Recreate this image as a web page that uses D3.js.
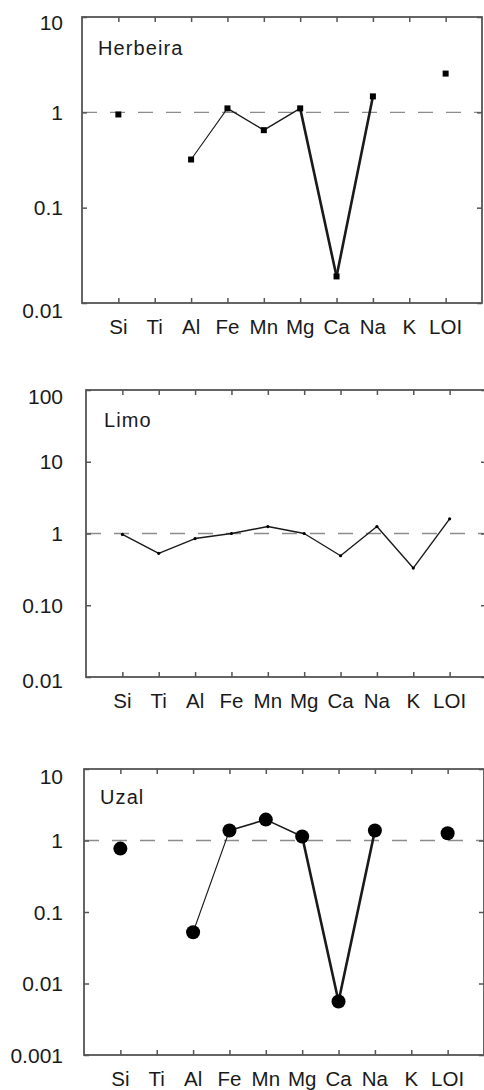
<!DOCTYPE html>
<html>
<head>
<meta charset="utf-8">
<script src="https://cdn.jsdelivr.net/npm/d3@7"></script>
<style>
  body { margin: 0; background: #fff; }
  svg { display: block; }
  text { font-family: Arial, "Liberation Sans", sans-serif; fill: #1a1a1a; }
</style>
</head>
<body>
<div class="chart"></div>
<script>
// categories on the x axis (same for all three panels)
var elements = ["Si", "Ti", "Al", "Fe", "Mn", "Mg", "Ca", "Na", "K", "LOI"];

// values, null = no value plotted
var herbeira = [0.95, null, 0.32, 1.1, 0.65, 1.1, 0.019, 1.47, null, 2.55];
var limo     = [0.97, 0.53, 0.85, 1.0, 1.25, 1.0, 0.49, 1.25, 0.33, 1.6];
var uzal     = [0.77, null, 0.052, 1.38, 1.96, 1.14, 0.0056, 1.38, null, 1.26];

// y tick values and labels
var herbeiraTicks = [10, 1, 0.1, 0.01];
var herbeiraLabels = ["10", "1", "0.1", "0.01"];
var limoTicks = [100, 10, 1, 0.1, 0.01];
var limoLabels = ["100", "10", "1", "0.10", "0.01"];
var uzalTicks = [10, 1, 0.1, 0.01, 0.001];
var uzalLabels = ["10", "1", "0.1", "0.01", "0.001"];

// stroke width of each segment (between element i and i+1)
var herbeiraWidths = [1, 1, 1.1, 1.4, 1.4, 2.6, 2.6, 1, 1];
var limoWidths     = [1.4, 1.4, 1.4, 1.4, 1.4, 1.4, 1.4, 1.4, 1.4];
var uzalWidths     = [1, 1, 1.1, 1.6, 1.6, 2.6, 2.6, 1, 1];

var panels = [
  {name: "Herbeira", values: herbeira, ticks: herbeiraTicks, labels: herbeiraLabels, widths: herbeiraWidths,
   left: 82, top: 17, bottom: 303, marker: "square", shiftTop: 5, shiftBottom: 7, nameX: 98, nameY: 55, labelRight: 63},
  {name: "Limo", values: limo, ticks: limoTicks, labels: limoLabels, widths: limoWidths,
   left: 86, top: 390, bottom: 677, marker: "dot", shiftTop: 6, shiftBottom: 3, nameX: 104, nameY: 427, labelRight: 63},
  {name: "Uzal", values: uzal, ticks: uzalTicks, labels: uzalLabels, widths: uzalWidths,
   left: 84, top: 769, bottom: 1055, marker: "circle", shiftTop: 7, shiftBottom: 0, nameX: 100, nameY: 804, labelRight: 63}
];

var W = 484, H = 1090, frameW = 400, tickLen = 5;
var frameColor = "#555";

var svg = d3.select(".chart")
    .append("svg")
    .attr("width", W)
    .attr("height", H);

panels.forEach(function(p) {
  var xScale = d3.scalePoint()
      .domain(elements)
      .range([p.left, p.left + frameW])
      .padding(1);
  var yScale = d3.scaleLog()
      .domain([p.ticks[p.ticks.length - 1], p.ticks[0]])
      .range([p.bottom, p.top]);

  var g = svg.append("g").attr("class", "panel");

  // reference line at 1
  g.append("line")
      .attr("x1", p.left).attr("x2", p.left + frameW)
      .attr("y1", yScale(1)).attr("y2", yScale(1))
      .style("stroke", "#8c8c8c")
      .style("stroke-width", 1.3)
      .style("stroke-dasharray", "15,13")
      .style("stroke-dashoffset", -28);

  // axes: ticks pointing inward on all four sides
  g.append("g")
      .attr("transform", "translate(0," + p.bottom + ")")
      .call(d3.axisTop(xScale).tickSize(tickLen).tickFormat(""))
      .call(styleAxis);
  g.append("g")
      .attr("transform", "translate(0," + p.top + ")")
      .call(d3.axisBottom(xScale).tickSize(tickLen).tickFormat(""))
      .call(styleAxis);
  g.append("g")
      .attr("transform", "translate(" + p.left + ",0)")
      .call(d3.axisRight(yScale).tickValues(p.ticks).tickSize(tickLen).tickFormat(""))
      .call(styleAxis);
  g.append("g")
      .attr("transform", "translate(" + (p.left + frameW) + ",0)")
      .call(d3.axisLeft(yScale).tickValues(p.ticks).tickSize(tickLen).tickFormat(""))
      .call(styleAxis);

  // frame
  g.append("rect")
      .attr("x", p.left).attr("y", p.top)
      .attr("width", frameW).attr("height", p.bottom - p.top)
      .style("fill", "none")
      .style("stroke", frameColor)
      .style("stroke-width", 1.8);

  // y labels
  g.selectAll(".ylab")
      .data(p.ticks)
      .enter().append("text")
      .attr("class", "ylab")
      .attr("x", p.labelRight)
      .attr("y", function(d, i) {
        var y = yScale(d);
        if (i === 0) y += p.shiftTop;
        if (i === p.ticks.length - 1) y += p.shiftBottom;
        return y;
      })
      .attr("dy", "0.36em")
      .attr("font-size", 21)
      .style("text-anchor", "end")
      .text(function(d, i) { return p.labels[i]; });

  // x labels
  g.selectAll(".xlab")
      .data(elements)
      .enter().append("text")
      .attr("class", "xlab")
      .attr("x", function(d) { return xScale(d); })
      .attr("y", p.bottom + 31)
      .attr("font-size", 20.5)
      .style("text-anchor", "middle")
      .text(function(d) { return d; });

  // panel name
  g.append("text")
      .attr("x", p.nameX)
      .attr("y", p.nameY)
      .attr("font-size", 20)
      .style("letter-spacing", "1.1px")
      .text(p.name);

  // line segments between consecutive defined values
  var pts = p.values.map(function(v, i) { return {el: elements[i], v: v, i: i}; });
  var segs = [];
  for (var i = 0; i < pts.length - 1; i++) {
    if (pts[i].v != null && pts[i + 1].v != null) segs.push([pts[i], pts[i + 1]]);
  }
  g.selectAll(".seg")
      .data(segs)
      .enter().append("line")
      .attr("class", "seg")
      .attr("x1", function(d) { return xScale(d[0].el); })
      .attr("y1", function(d) { return yScale(d[0].v); })
      .attr("x2", function(d) { return xScale(d[1].el); })
      .attr("y2", function(d) { return yScale(d[1].v); })
      .style("stroke", "#1a1a1a")
      .style("stroke-width", function(d) { return p.widths[d[0].i]; })
      .style("stroke-linecap", "round");

  var defined = pts.filter(function(d) { return d.v != null; });
  if (p.marker === "square") {
    g.selectAll(".mk")
        .data(defined)
        .enter().append("rect")
        .attr("class", "mk")
        .attr("x", function(d) { return xScale(d.el) - 3; })
        .attr("y", function(d) { return yScale(d.v) - 3; })
        .attr("width", 6).attr("height", 6)
        .style("fill", "#000");
  } else {
    g.selectAll(".mk")
        .data(defined)
        .enter().append("circle")
        .attr("class", "mk")
        .attr("cx", function(d) { return xScale(d.el); })
        .attr("cy", function(d) { return yScale(d.v); })
        .attr("r", p.marker === "circle" ? 7 : 1.6)
        .style("fill", "#000");
  }
});

function styleAxis(sel) {
  sel.select(".domain").remove();
  sel.selectAll(".tick line")
      .style("stroke", frameColor)
      .style("stroke-width", 1.5);
}
</script>
</body>
</html>
